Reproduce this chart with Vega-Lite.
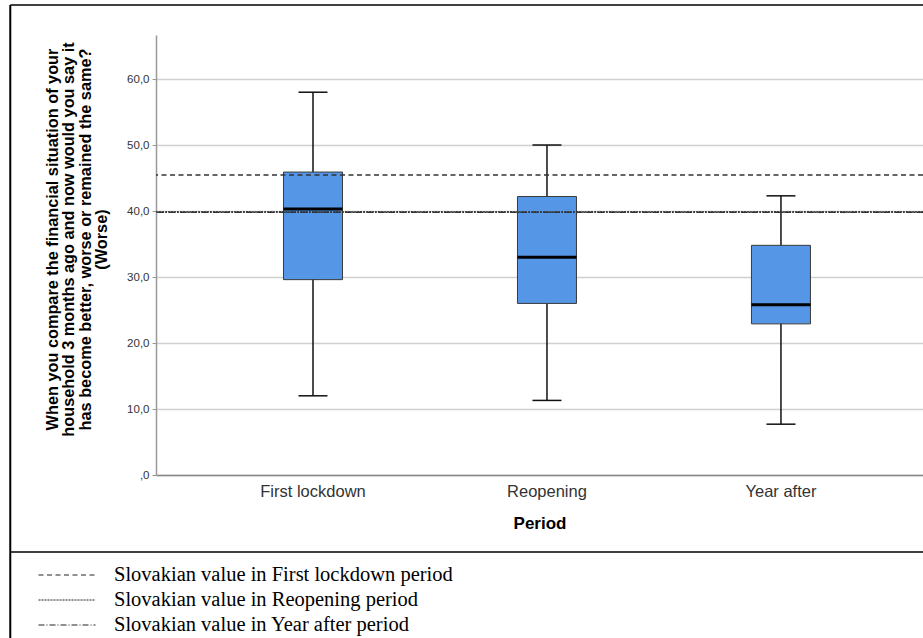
{
  "$schema": "https://vega.github.io/schema/vega-lite/v6.json",
  "width": 767,
  "height": 440,
  "autosize": {"type": "none"},
  "padding": {"left": 156, "top": 35, "right": 0, "bottom": 163},
  "background": "white",
  "config": {"view": {"stroke": null}, "font": "Liberation Sans"},
  "datasets": {
    "boxes": [
      {"period": "First lockdown", "low": 12.0, "q1": 29.6, "median": 40.3, "q3": 45.9, "high": 58.0},
      {"period": "Reopening", "low": 11.3, "q1": 26.0, "median": 33.0, "q3": 42.2, "high": 50.0},
      {"period": "Year after", "low": 7.7, "q1": 22.9, "median": 25.8, "q3": 34.8, "high": 42.3}
    ],
    "refs": [
      {"label": "Slovakian value in First lockdown period", "value": 45.45},
      {"label": "Slovakian value in Reopening period", "value": 39.85},
      {"label": "Slovakian value in Year after period", "value": 39.8}
    ]
  },
  "layer": [
    {
      "data": {"name": "boxes"},
      "encoding": {
        "x": {
          "field": "period",
          "type": "nominal",
          "sort": ["First lockdown", "Reopening", "Year after"],
          "scale": {"type": "band", "paddingInner": 0, "paddingOuter": 0.139, "align": 0.615},
          "axis": {
            "title": "Period",
            "titleFontSize": 17,
            "titleFontWeight": "bold",
            "titleColor": "#000",
            "titlePadding": 16,
            "labelFontSize": 16.5,
            "labelColor": "#333",
            "labelPadding": 8,
            "labelAngle": 0,
            "ticks": false,
            "grid": false,
            "domainColor": "#888",
            "domainWidth": 1.5
          }
        }
      },
      "layer": [
        {
          "mark": {"type": "rule", "color": "#111", "strokeWidth": 1.5},
          "encoding": {
            "y": {
              "field": "low",
              "type": "quantitative",
              "scale": {"domain": [0, 66.67], "nice": false, "zero": false},
              "axis": {
                "values": [0, 10, 20, 30, 40, 50, 60],
                "labelExpr": "datum.value == 0 ? ',0' : replace(format(datum.value, '.1f'), '.', ',')",
                "labelFontSize": 11.5,
                "labelColor": "#333",
                "labelPadding": 3,
                "grid": true,
                "gridColor": "#d0d0d0",
                "gridWidth": 1.5,
                "domainColor": "#999",
                "domainWidth": 1.5,
                "tickColor": "#999",
                "tickSize": 4,
                "title": ["When you compare the financial situation of your", "household 3 months ago and now would you say it", "has become better, worse or remained the same?", "(Worse)"],
                "titleFontSize": 16.3,
                "titleFontWeight": "bold",
                "titleColor": "#000",
                "titleLineHeight": 16.5,
                "titlePadding": 17,
                "titleY": 204
              }
            },
            "y2": {"field": "high"}
          }
        },
        {
          "mark": {"type": "bar", "size": 59, "fill": "#5596e6", "stroke": "#3a3a3a", "strokeWidth": 1, "opacity": 1},
          "encoding": {
            "y": {"field": "q1", "type": "quantitative"},
            "y2": {"field": "q3"}
          }
        },
        {
          "mark": {"type": "tick", "size": 59, "thickness": 3, "color": "#000", "opacity": 1},
          "encoding": {"y": {"field": "median", "type": "quantitative"}}
        },
        {
          "mark": {"type": "tick", "size": 29, "thickness": 1.5, "color": "#111", "opacity": 1},
          "encoding": {"y": {"field": "low", "type": "quantitative"}}
        },
        {
          "mark": {"type": "tick", "size": 29, "thickness": 1.5, "color": "#111", "opacity": 1},
          "encoding": {"y": {"field": "high", "type": "quantitative"}}
        }
      ]
    },
    {
      "data": {"name": "refs"},
      "mark": {"type": "rule", "color": "#333", "strokeWidth": 1.5},
      "encoding": {
        "y": {"field": "value", "type": "quantitative"},
        "strokeDash": {
          "field": "label",
          "type": "nominal",
          "scale": {
            "domain": ["Slovakian value in First lockdown period", "Slovakian value in Reopening period", "Slovakian value in Year after period"],
            "range": [[5, 3.5], [2, 1], [6, 2, 1, 2]]
          },
          "legend": {
            "title": null,
            "orient": "none",
            "legendX": -118,
            "legendY": 530,
            "symbolType": "stroke",
            "symbolSize": 3249,
            "symbolStrokeWidth": 1,
            "symbolStrokeColor": "#222",
            "clipHeight": 20,
            "rowPadding": 4,
            "labelFont": "Liberation Serif",
            "labelFontSize": 20.5,
            "labelColor": "#000",
            "labelLimit": 700,
            "labelOffset": 18,
            "padding": 0
          }
        }
      }
    },
    {
      "data": {"values": [{}]},
      "layer": [
        {
          "mark": {"type": "rule", "color": "#000", "strokeWidth": 1.5},
          "encoding": {
            "x": {"datum": -0.19, "type": "quantitative", "scale": {"domain": [0, 1], "nice": false, "zero": false}, "axis": null},
            "x2": {"datum": 1},
            "y": {"datum": 71.2, "type": "quantitative"}
          }
        },
        {
          "mark": {"type": "rule", "color": "#000", "strokeWidth": 2},
          "encoding": {
            "x": {"datum": -0.19, "type": "quantitative"},
            "y": {"datum": 71.2, "type": "quantitative"},
            "y2": {"datum": -25}
          }
        },
        {
          "mark": {"type": "rule", "color": "#000", "strokeWidth": 1.5},
          "encoding": {
            "x": {"datum": -0.19, "type": "quantitative"},
            "x2": {"datum": 1},
            "y": {"datum": -11.67, "type": "quantitative"}
          }
        }
      ]
    }
  ],
  "resolve": {"scale": {"x": "independent"}}
}
